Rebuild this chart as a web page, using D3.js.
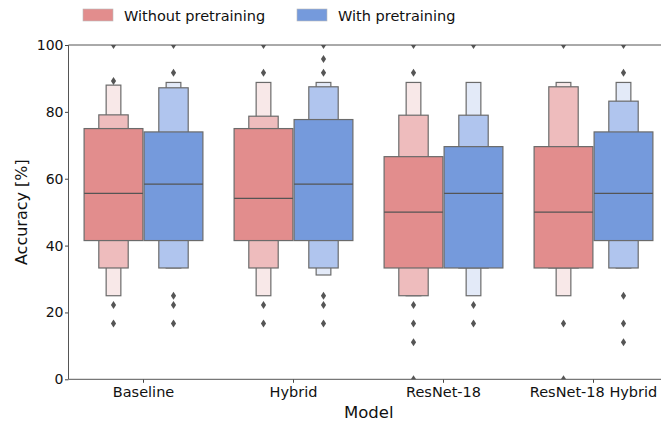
<!DOCTYPE html>
<html>
<head>
<meta charset="utf-8">
<script src="https://cdn.jsdelivr.net/npm/d3@7"></script>
<style>
  body { margin: 0; background: #fff; }
  svg { display: block; font-family: "DejaVu Sans", sans-serif; }
</style>
</head>
<body>
<svg id="chart" width="661" height="421"></svg>
<script>
// ---------- DATA ----------
const models = ["Baseline", "Hybrid", "ResNet-18", "ResNet-18 Hybrid"];
const seriesNames = ["Without pretraining", "With pretraining"];
const yTicks = [0, 20, 40, 60, 80, 100];

// letter-value boxes: [low, high] per level (level 1 = widest)
const medianWithout = [55.6, 54.1, 50.0, 50.0];
const medianWith    = [58.4, 58.4, 55.6, 55.6];
const level1Without = [[41.5, 75.0], [41.5, 75.0], [33.3, 66.6], [33.3, 69.6]];
const level1With    = [[41.5, 74.0], [41.5, 77.7], [33.3, 69.6], [41.5, 74.0]];
const level2Without = [[33.3, 79.1], [33.3, 78.7], [25.0, 79.0], [33.3, 87.5]];
const level2With    = [[33.3, 87.2], [33.3, 87.5], [33.3, 79.0], [33.3, 83.2]];
const level3Without = [[25.0, 88.0], [25.0, 88.8], [25.0, 88.8], [25.0, 88.8]];
const level3With    = [[33.3, 88.8], [31.2, 88.8], [25.0, 88.8], [33.3, 88.8]];
const outliersWithout = [
  [100, 89.2, 22.2, 16.7],
  [100, 91.7, 22.2, 16.7],
  [100, 91.7, 22.2, 16.7, 11.1, 0],
  [100, 16.7, 0]
];
const outliersWith = [
  [100, 91.7, 25.0, 22.2, 16.7],
  [100, 95.8, 91.7, 25.0, 22.2, 16.7],
  [100, 22.2, 16.7],
  [100, 91.7, 25.0, 16.7, 11.1]
];

// ---------- STYLE ----------
const levelColors = [
  ["#e28d8d", "#eebcbd", "#f8e8e8"],
  ["#759adc", "#b0c5ee", "#e3eaf8"]
];
const edge = "#6b6b6b";
const dark = "#555555";

const series = [
  { name: seriesNames[0], median: medianWithout, levels: [level1Without, level2Without, level3Without], outliers: outliersWithout },
  { name: seriesNames[1], median: medianWith, levels: [level1With, level2With, level3With], outliers: outliersWith }
];

// ---------- LAYOUT ----------
const svg = d3.select("#chart");
const mLeft = 68.5, mTop = 45, mBottom = 379.3, mRight = 668.5;

const x = d3.scaleBand().domain(models).range([mLeft, mRight]).padding(0);
const y = d3.scaleLinear().domain([0, 100]).range([mBottom, mTop]);
const hue = d3.scaleBand().domain(seriesNames).range([0, x.bandwidth() * 0.8]);
const hueOffset = x.bandwidth() * 0.1;
const fullW = hue.bandwidth() * 0.98;

svg.append("defs").append("clipPath").attr("id", "clip")
  .append("rect").attr("x", mLeft).attr("y", mTop).attr("width", mRight - mLeft).attr("height", mBottom - mTop);

const plot = svg.append("g").attr("clip-path", "url(#clip)");

series.forEach((s, si) => {
  models.forEach((m, mi) => {
    const cx = x(m) + hueOffset + hue(s.name) + hue.bandwidth() / 2;
    for (let k = s.levels.length - 1; k >= 0; k--) {
      const [lo, hi] = s.levels[k][mi];
      const w = fullW * Math.pow(0.5, k);
      plot.append("rect")
        .attr("x", cx - w / 2)
        .attr("y", y(hi))
        .attr("width", w)
        .attr("height", Math.max(0, y(lo) - y(hi)))
        .attr("fill", levelColors[si][k])
        .attr("stroke", edge)
        .attr("stroke-width", 1.2);
    }
    plot.append("line")
      .attr("x1", cx - fullW / 2).attr("x2", cx + fullW / 2)
      .attr("y1", y(s.median[mi])).attr("y2", y(s.median[mi]))
      .attr("stroke", dark).attr("stroke-width", 1.2);
    s.outliers[mi].forEach(v => {
      plot.append("path")
        .attr("d", "M0,-4 L2.6,0 L0,4 L-2.6,0 Z")
        .attr("transform", `translate(${cx},${y(v)})`)
        .attr("fill", dark);
    });
  });
});

// ---------- AXES ----------
const yAxis = d3.axisLeft(y).tickValues(yTicks).tickSize(3.5).tickPadding(1.5);
const gy = svg.append("g").attr("transform", `translate(${mLeft},0)`).call(yAxis);
gy.select(".domain").remove();
gy.selectAll(".tick line").attr("stroke", "#444");
gy.selectAll("text").attr("font-size", 14).attr("fill", "#111").attr("font-family", "DejaVu Sans");

const xAxis = d3.axisBottom(x).tickSize(3.5).tickPadding(4);
const gx = svg.append("g").attr("transform", `translate(0,${mBottom})`).call(xAxis);
gx.select(".domain").remove();
gx.selectAll(".tick line").attr("stroke", "#444");
gx.selectAll("text").attr("font-size", 14.5).attr("fill", "#111").attr("font-family", "DejaVu Sans");

// spines
const spine = svg.append("g").attr("stroke", "#555").attr("stroke-width", 1);
spine.append("line").attr("x1", mLeft).attr("x2", mLeft).attr("y1", mTop).attr("y2", mBottom);
spine.append("line").attr("x1", mLeft).attr("x2", 661).attr("y1", mBottom).attr("y2", mBottom);
spine.append("line").attr("x1", mLeft).attr("x2", 661).attr("y1", mTop).attr("y2", mTop);

// labels
svg.append("text").text("Accuracy [%]")
  .attr("transform", `translate(27,${(mTop + mBottom) / 2}) rotate(-90)`)
  .attr("text-anchor", "middle").attr("font-size", 16).attr("fill", "#111");
svg.append("text").text("Model")
  .attr("x", (mLeft + 661) / 2 + 4).attr("y", 417.5)
  .attr("text-anchor", "middle").attr("font-size", 16.5).attr("fill", "#111");

// legend
const legendX = [83, 297];
series.forEach((s, si) => {
  const g = svg.append("g").attr("transform", `translate(${legendX[si]},0)`);
  g.append("rect").attr("x", 0).attr("y", 9).attr("width", 30).attr("height", 12)
    .attr("fill", levelColors[si][0]).attr("stroke", "#bbb").attr("stroke-width", 0.6);
  g.append("text").text(s.name).attr("x", 41).attr("y", 20.5)
    .attr("font-size", 14.5).attr("fill", "#111");
});
</script>
</body>
</html>
